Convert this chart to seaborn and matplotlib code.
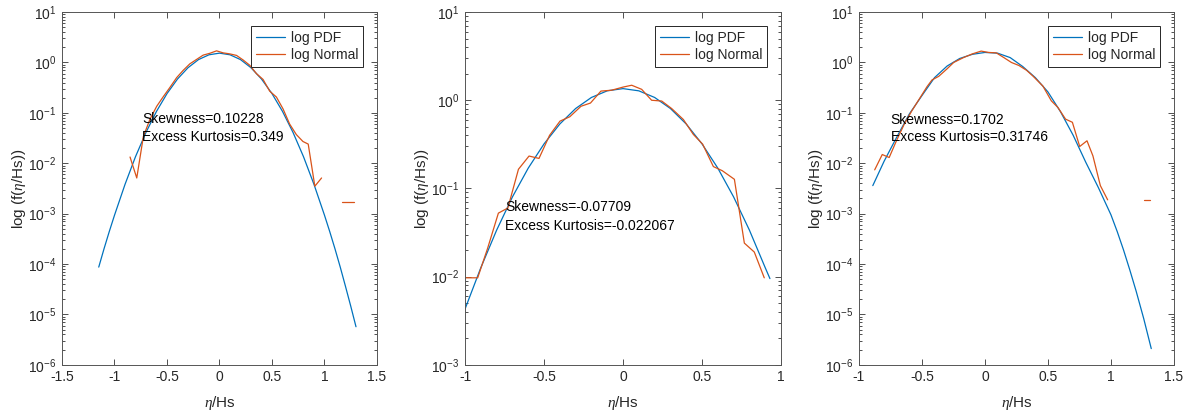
import numpy as np
import matplotlib
matplotlib.use("Agg")
import matplotlib.pyplot as plt
import seaborn as sns
from matplotlib.ticker import FixedLocator, NullFormatter, FuncFormatter, NullLocator, LogFormatterSciNotation

# ---------------- data ----------------
# Panel 1
p1_pdf_x = [-1.15, -1.1, -1.05, -1.0, -0.9, -0.8, -0.7, -0.6, -0.5, -0.4, -0.3, -0.2, -0.1, 0.0,
            0.1, 0.2, 0.3, 0.4, 0.5, 0.6, 0.7, 0.8, 0.9, 1.0, 1.05, 1.1, 1.15, 1.2, 1.25, 1.3]
p1_pdf_y = [8.7e-5, 2.0e-4, 4.4e-4, 9.3e-4, 3.8e-3, 1.35e-2, 0.041, 0.107, 0.241, 0.469, 0.786, 1.14, 1.42, 1.53,
            1.42, 1.14, 0.786, 0.469, 0.241, 0.107, 0.041, 1.35e-2, 3.8e-3, 9.3e-4, 4.4e-4, 2.0e-4, 8.7e-5,
            3.6e-5, 1.46e-5, 5.7e-6]
p1_norm_x = [-0.852, -0.788, -0.725, -0.662, -0.598, -0.535, -0.472, -0.408, -0.345, -0.282, -0.218,
             -0.155, -0.092, -0.028, 0.035, 0.098, 0.162, 0.225, 0.288, 0.352, 0.415, 0.478, 0.542,
             0.605, 0.668, 0.732, 0.795, 0.845, 0.908, 0.972]
p1_norm_y = [0.0133, 0.0051, 0.034, 0.075, 0.135, 0.21, 0.32, 0.50, 0.70, 0.94, 1.15,
             1.40, 1.52, 1.70, 1.55, 1.48, 1.38, 1.12, 0.88, 0.60, 0.46, 0.27, 0.206,
             0.12, 0.06, 0.037, 0.027, 0.024, 0.0035, 0.0051]
p1_tail_x = [1.169, 1.283]
p1_tail_y = [1.68e-3, 1.68e-3]
p1_skew = "Skewness=0.10228"
p1_kurt = "Excess Kurtosis=0.349"

# Panel 2
p2_pdf_x = [-1.0, -0.9, -0.8, -0.7, -0.6, -0.5, -0.4, -0.3, -0.2, -0.1, 0.0,
            0.1, 0.2, 0.3, 0.4, 0.5, 0.6, 0.7, 0.8, 0.9, 0.93]
p2_pdf_y = [4.3e-3, 0.01265, 0.0337, 0.0802, 0.170, 0.320, 0.538, 0.806, 1.076, 1.279, 1.355,
            1.279, 1.076, 0.806, 0.538, 0.320, 0.170, 0.0802, 0.0337, 0.01265, 0.0095]
p2_norm_x = [-0.996, -0.920, -0.857, -0.789, -0.729, -0.662, -0.595, -0.532, -0.465, -0.399,
             -0.337, -0.266, -0.206, -0.140, -0.072, 0.000, 0.055, 0.118, 0.181, 0.245,
             0.308, 0.382, 0.445, 0.504, 0.572, 0.628, 0.705, 0.768, 0.831, 0.894]
p2_norm_y = [9.7e-3, 9.7e-3, 0.021, 0.0525, 0.060, 0.165, 0.233, 0.219, 0.40, 0.58,
             0.65, 0.855, 0.93, 1.27, 1.30, 1.41, 1.48, 1.33, 1.0, 0.98,
             0.805, 0.605, 0.41, 0.318, 0.177, 0.159, 0.127, 0.024, 0.019, 9.7e-3]
p2_skew = "Skewness=-0.07709"
p2_kurt = "Excess Kurtosis=-0.022067"

# Panel 3
p3_pdf_x = [-0.89, -0.8, -0.7, -0.6, -0.5, -0.4, -0.3, -0.2, -0.1, 0.0, 0.1, 0.2, 0.3,
            0.4, 0.5, 0.6, 0.7, 0.8, 0.9, 1.0, 1.05, 1.1, 1.15, 1.2, 1.26, 1.32]
p3_pdf_y = [3.6e-3, 0.011, 0.033, 0.095, 0.22, 0.50, 0.85, 1.2, 1.45, 1.58, 1.53, 1.25, 0.83,
            0.50, 0.26, 0.105, 0.036, 0.0105, 3.3e-3, 9.5e-4, 4.4e-4, 1.9e-4, 7.6e-5, 2.9e-5,
            8.3e-6, 2.1e-6]
p3_norm_x = [-0.875, -0.815, -0.760, -0.705, -0.640, -0.580, -0.520, -0.460, -0.420, -0.367,
             -0.300, -0.248, -0.170, -0.100, -0.030, 0.030, 0.090, 0.150, 0.210, 0.270,
             0.330, 0.380, 0.460, 0.527, 0.579, 0.640, 0.694, 0.752, 0.810, 0.857, 0.916, 0.974]
p3_norm_y = [7.4e-3, 0.0149, 0.013, 0.027, 0.06, 0.11, 0.19, 0.33, 0.45, 0.53,
             0.75, 1.0, 1.25, 1.48, 1.68, 1.58, 1.55, 1.25, 1.0, 0.87,
             0.70, 0.54, 0.34, 0.173, 0.128, 0.075, 0.065, 0.0215, 0.0279, 0.014, 3.6e-3, 1.88e-3]
p3_tail_x = [1.26, 1.313]
p3_tail_y = [1.86e-3, 1.86e-3]
p3_skew = "Skewness=0.1702"
p3_kurt = "Excess Kurtosis=0.31746"

legend_labels = ["log PDF", "log Normal"]
xlabel = r"$\eta$/Hs"
ylabel = r"log (f($\eta$/Hs))"

# ---------------- style ----------------
sns.set_style("ticks")
plt.rcParams.update({
    "font.family": ["Liberation Sans", "DejaVu Sans"],
    "mathtext.fontset": "custom",
    "mathtext.rm": "Liberation Sans",
    "mathtext.it": "Liberation Serif:italic",
    "mathtext.bf": "Liberation Sans:bold",
    "axes.unicode_minus": False,
    "font.size": 10,
})

BLUE = "#0072BD"
ORANGE = "#D95319"
EDGE = "#555555"

fig = plt.figure(figsize=(11.9, 4.16), dpi=100)
rects = [
    [0.0521, 0.123, 0.2647, 0.848],
    [0.3908, 0.123, 0.2655, 0.848],
    [0.7218, 0.123, 0.2647, 0.848],
]
panels = [
    dict(pdf=(p1_pdf_x, p1_pdf_y), norm=(p1_norm_x, p1_norm_y), tail=(p1_tail_x, p1_tail_y),
         xlim=(-1.5, 1.5), xticks=[-1.5, -1, -0.5, 0, 0.5, 1, 1.5], ylim=(1e-6, 10),
         txt=(-0.737, 0.075, 0.0327, p1_skew, p1_kurt)),
    dict(pdf=(p2_pdf_x, p2_pdf_y), norm=(p2_norm_x, p2_norm_y), tail=None,
         xlim=(-1, 1), xticks=[-1, -0.5, 0, 0.5, 1], ylim=(1e-3, 10),
         txt=(-0.747, 0.0614, 0.038, p2_skew, p2_kurt)),
    dict(pdf=(p3_pdf_x, p3_pdf_y), norm=(p3_norm_x, p3_norm_y), tail=(p3_tail_x, p3_tail_y),
         xlim=(-1, 1.5), xticks=[-1, -0.5, 0, 0.5, 1, 1.5], ylim=(1e-6, 10),
         txt=(-0.749, 0.073, 0.0326, p3_skew, p3_kurt)),
]

for rect, p in zip(rects, panels):
    ax = fig.add_axes(rect)
    sns.lineplot(x=p["pdf"][0], y=p["pdf"][1], ax=ax, color=BLUE, lw=0.9,
                 label=legend_labels[0], estimator=None, sort=False)
    sns.lineplot(x=p["norm"][0], y=p["norm"][1], ax=ax, color=ORANGE, lw=0.9,
                 label=legend_labels[1], estimator=None, sort=False)
    if p["tail"] is not None:
        sns.lineplot(x=p["tail"][0], y=p["tail"][1], ax=ax, color=ORANGE, lw=0.9,
                     estimator=None, sort=False)
    ax.set_yscale("log")
    ax.set_xlim(*p["xlim"])
    ax.set_ylim(*p["ylim"])
    ax.set_xticks(p["xticks"])
    ax.xaxis.set_major_formatter(FuncFormatter(lambda v, pos: f"{v:g}"))
    ax.xaxis.set_minor_locator(NullLocator())
    lo = int(round(np.log10(p["ylim"][0])))
    hi = int(round(np.log10(p["ylim"][1])))
    majors = [10.0 ** k for k in range(lo, hi + 1)]
    minors = [m * 10.0 ** k for k in range(lo, hi) for m in range(2, 10)]
    ax.yaxis.set_major_locator(FixedLocator(majors))
    ax.yaxis.set_major_formatter(LogFormatterSciNotation())
    ax.yaxis.set_minor_locator(FixedLocator(minors))
    ax.yaxis.set_minor_formatter(NullFormatter())
    ax.tick_params(which="both", direction="in", top=True, right=True,
                   color="#333333", width=0.6, labelsize=10, labelcolor="#262626")
    ax.tick_params(which="major", length=4, pad=4)
    ax.tick_params(which="minor", length=2)
    for s in ax.spines.values():
        s.set_color(EDGE)
        s.set_linewidth(0.7)
    ax.set_xlabel(xlabel, fontsize=11, color="#262626", labelpad=7)
    ax.set_ylabel(ylabel, fontsize=11, color="#262626", labelpad=0)
    tx, ty1, ty2, s1, s2 = p["txt"]
    ax.text(tx, ty1, s1, fontsize=10, ha="left", va="center", color="black")
    ax.text(tx, ty2, s2, fontsize=10, ha="left", va="center", color="black")
    leg = ax.legend(loc="upper right", fontsize=10, frameon=True, fancybox=False,
                    framealpha=1, edgecolor="#262626", borderaxespad=1.0,
                    handlelength=2.1, handletextpad=0.4, labelspacing=0.25,
                    borderpad=0.35)
    leg.get_frame().set_linewidth(0.7)

fig.savefig("out.png", dpi=100)
